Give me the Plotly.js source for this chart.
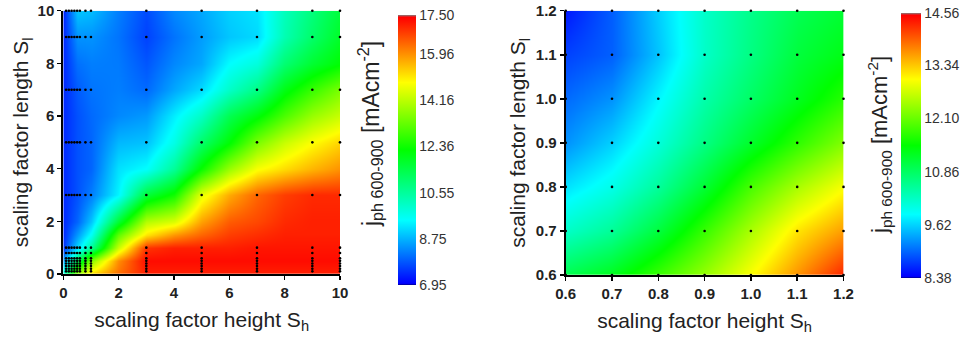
<!DOCTYPE html>
<html>
<head>
<meta charset="utf-8">
<script src="https://cdn.plot.ly/plotly-3.0.1.min.js"></script>
<style>html,body{margin:0;padding:0;background:#fff;}#chart{width:971px;height:343px;}</style>
</head>
<body>
<div id="chart"></div>
<script>
// ---- Left map: scaling factor height (x) vs length (y), wide range ----
const leftX = [0, 0.5, 1, 2, 3, 4, 5, 6, 7, 8, 9, 10];
const leftY = [0, 0.5, 1, 1.5, 2, 3, 4, 5, 6, 7, 8, 9, 10];
const leftZ = [
  [10.0, 13.8, 15.2, 16.3, 17.1, 17.1, 17.1, 17.1, 17.1, 17.1, 17.1, 17.1],
  [ 8.5, 11.2, 13.6, 16.0, 17.3, 17.3, 17.3, 17.3, 17.3, 17.3, 17.3, 17.3],
  [ 7.5,  9.1, 10.6, 14.3, 16.9, 17.1, 17.1, 17.1, 17.2, 17.2, 17.2, 17.2],
  [ 7.4,  8.5,  9.6, 13.2, 15.1, 15.9, 16.4, 16.8, 16.95, 17.1, 17.1, 17.1],
  [ 7.4,  8.0,  8.94, 11.7, 14.1, 14.5, 15.8, 16.5, 16.7, 17.0, 17.1, 17.1],
  [ 7.4,  7.8,  8.24,  9.4, 11.6, 12.4, 14.6, 15.7, 16.4, 16.8, 17.0, 17.0],
  [ 7.4,  7.8,  8.0,  9.2,  9.5, 10.6, 12.3, 13.8, 14.8, 15.2, 15.6, 15.95],
  [ 7.4,  7.8,  8.0,  8.8,  8.9,  9.75, 11.1, 12.2, 13.5, 14.3, 14.86, 15.3],
  [ 7.4,  7.8,  8.04,  8.34, 8.5,  9.33, 10.1, 11.36, 12.1, 13.0, 13.8, 14.3],
  [ 7.4,  7.9,  8.14,  8.24, 8.04, 8.64, 9.13, 10.07, 10.8, 12.0, 12.8, 13.5],
  [ 7.4,  8.1,  8.24,  8.2,  7.85, 8.34, 8.64, 9.48, 9.85, 11.0, 11.7, 12.2],
  [ 7.4,  8.44, 8.44,  8.14, 7.65, 8.14, 8.54, 8.94, 9.13, 10.3, 11.1, 11.8],
  [ 7.35, 8.94, 8.84,  8.24, 7.74, 8.34, 8.64, 9.04, 9.23, 10.2, 10.9, 11.6]
];
const leftDots = [0.1, 0.2, 0.3, 0.4, 0.5, 0.6, 0.8, 1, 3, 5, 7, 9, 10];
const leftTickVals = [6.95, 8.75, 10.55, 12.36, 14.16, 15.96, 17.50];
const leftTickText = ["6.95", "8.75", "10.55", "12.36", "14.16", "15.96", "17.50"];
const leftRange = [6.95, 17.50];

// ---- Right map: narrow range ----
const rightX = [0.6, 0.7, 0.8, 0.9, 1.0, 1.1, 1.2];
const rightY = [0.6, 0.7, 0.8, 0.9, 1.0, 1.1, 1.2];
const rightZ = [
  [10.97, 11.28, 11.83, 12.38, 13.0, 13.65, 14.3],
  [10.21, 10.52, 11.09, 11.8, 12.5, 13.17, 13.59],
  [ 9.7, 10.0, 10.5, 11.15, 11.9, 12.5, 12.98],
  [ 9.25, 9.6, 10.1, 10.65, 11.2, 11.75, 12.26],
  [ 9.02, 9.25, 9.83, 10.4, 10.84, 11.28, 11.71],
  [ 8.79, 8.96, 9.54, 10.21, 10.65, 11.09, 11.34],
  [ 8.55, 8.95, 9.6, 10.2, 10.6, 10.95, 11.15]
];
const rightDots = [0.6, 0.7, 0.8, 0.9, 1.0, 1.1, 1.2];
const rightTickVals = [8.38, 9.62, 10.86, 12.10, 13.34, 14.56];
const rightTickText = ["8.38", "9.62", "10.86", "12.10", "13.34", "14.56"];
const rightRange = [8.38, 14.56];

const jet = [
  [0, 'rgb(0,0,140)'], [0.006, 'rgb(0,0,255)'],
  [0.24, 'rgb(0,255,255)'], [0.5, 'rgb(0,255,0)'],
  [0.75, 'rgb(255,255,0)'], [0.992, 'rgb(255,0,0)'], [1, 'rgb(128,128,128)']
];

function grid(vals) {
  const xs = [], ys = [];
  vals.forEach(y => vals.forEach(x => { xs.push(x); ys.push(y); }));
  return {xs, ys};
}
const lg = grid(leftDots), rg = grid(rightDots);

const FONT = 'Liberation Sans, Arial, sans-serif';
const cbCommon = {
  ticks: '', outlinewidth: 0, ypad: 0, xpad: 0, yanchor: 'middle', xanchor: 'left',
  tickfont: {family: FONT, size: 14, color: '#333'}, tickmode: 'array'
};

const data = [
  {type: 'heatmap', x: leftX, y: leftY, z: leftZ, zsmooth: 'best',
   colorscale: jet, zmin: leftRange[0], zmax: leftRange[1], xaxis: 'x', yaxis: 'y',
   colorbar: Object.assign({}, cbCommon, {x: 398/971, thickness: 18, len: 270/343, y: 1 - 150/343,
     tickvals: leftTickVals, ticktext: leftTickText}), hoverinfo: 'skip'},
  {type: 'scatter', mode: 'markers', x: lg.xs, y: lg.ys, xaxis: 'x', yaxis: 'y',
   marker: {color: '#000', size: 2.6}, showlegend: false, cliponaxis: false},
  {type: 'heatmap', x: rightX, y: rightY, z: rightZ, zsmooth: 'best',
   colorscale: jet, zmin: rightRange[0], zmax: rightRange[1], xaxis: 'x2', yaxis: 'y2',
   colorbar: Object.assign({}, cbCommon, {x: 901/971, thickness: 20, len: 265/343, y: 1 - 145.5/343,
     tickvals: rightTickVals, ticktext: rightTickText}), hoverinfo: 'skip'},
  {type: 'scatter', mode: 'markers', x: rg.xs, y: rg.ys, xaxis: 'x2', yaxis: 'y2',
   marker: {color: '#000', size: 2.6}, showlegend: false, cliponaxis: false}
];

const axCommon = {
  showline: true, linecolor: '#000', linewidth: 2, ticks: 'outside', ticklen: 4, tickwidth: 1.5,
  tickcolor: '#000', showgrid: false, zeroline: false, mirror: false,
  tickfont: {family: FONT, size: 15, color: '#222', weight: 'bold'}
};
function ax(extra) { return Object.assign({}, JSON.parse(JSON.stringify(axCommon)), extra); }
const titleFont = {family: FONT, size: 21, color: '#222'};

const layout = {
  width: 971, height: 343, margin: {l: 0, r: 0, t: 0, b: 0},
  paper_bgcolor: '#fff', plot_bgcolor: '#fff', showlegend: false,
  xaxis: ax({domain: [63.3/971, 340/971], range: [0, 10], tickvals: [0, 2, 4, 6, 8, 10], anchor: 'y',
    title: {text: 'scaling factor height S<sub>h</sub>', standoff: 12, font: titleFont}}),
  yaxis: ax({domain: [1 - 274/343, 1 - 10.7/343], range: [0, 10], tickvals: [0, 2, 4, 6, 8, 10], anchor: 'x',
    title: {text: 'scaling factor length S<sub>l</sub>', standoff: 3, font: titleFont}}),
  xaxis2: ax({domain: [565.7/971, 843.5/971], range: [0.6, 1.2], tickvals: [0.6, 0.7, 0.8, 0.9, 1.0, 1.1, 1.2], tickformat: '.1f', anchor: 'y2',
    title: {text: 'scaling factor height S<sub>h</sub>', standoff: 12, font: titleFont}}),
  yaxis2: ax({domain: [1 - 275/343, 1 - 10.7/343], range: [0.6, 1.2], tickvals: [0.6, 0.7, 0.8, 0.9, 1.0, 1.1, 1.2], tickformat: '.1f', anchor: 'x2',
    title: {text: 'scaling factor length S<sub>l</sub>', standoff: 4, font: titleFont}}),
  annotations: [
    {text: 'j<sub>ph 600-900</sub> [mAcm<sup>-2</sup>]', textangle: -90, showarrow: false,
     xref: 'paper', yref: 'paper', x: 370/971, y: 1 - 134/343, xanchor: 'center', yanchor: 'middle',
     font: {family: FONT, size: 23, color: '#222'}},
    {text: 'j<sub>ph 600-900</sub> [mAcm<sup>-2</sup>]', textangle: -90, showarrow: false,
     xref: 'paper', yref: 'paper', x: 879/971, y: 1 - 145/343, xanchor: 'center', yanchor: 'middle',
     font: {family: FONT, size: 22, color: '#222'}}
  ]
};

Plotly.newPlot('chart', data, layout, {staticPlot: true, displayModeBar: false});
</script>
</body>
</html>
